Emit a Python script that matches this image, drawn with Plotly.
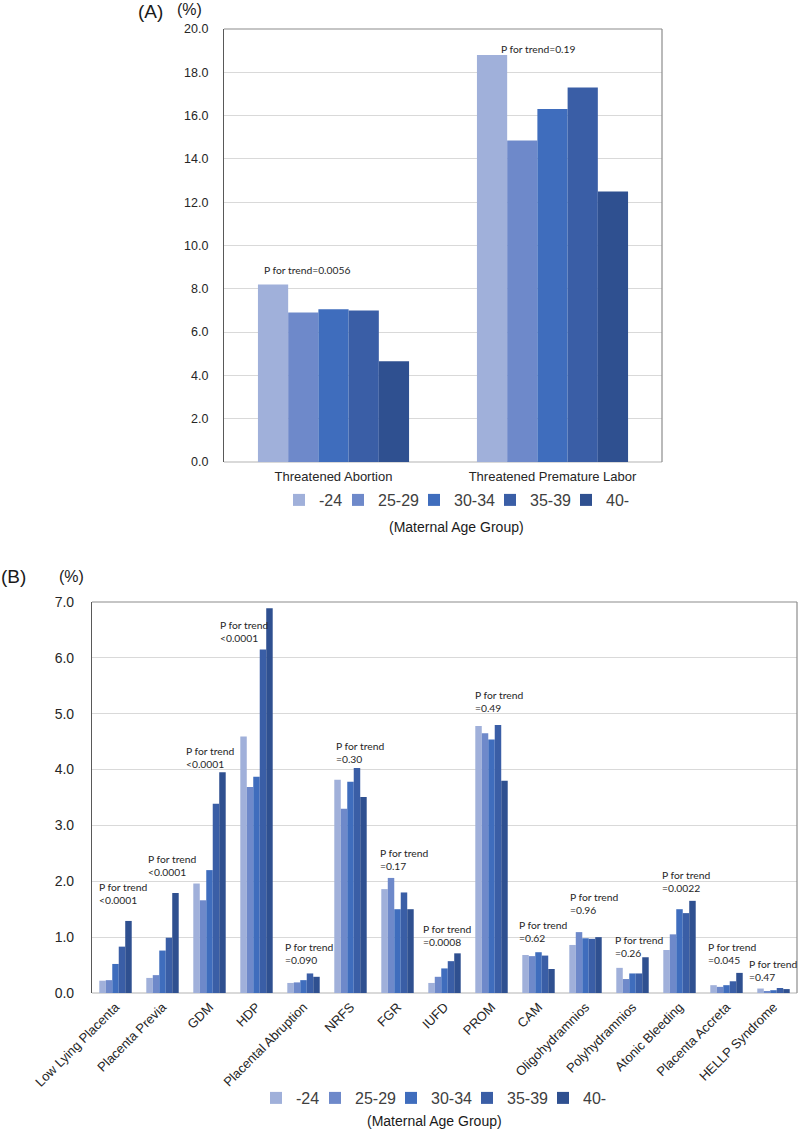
import plotly.graph_objects as go

W, H = 799, 1131

# ---------------- data ----------------
age_groups = ["-24", "25-29", "30-34", "35-39", "40-"]
colors = ["#A0B0DA", "#6E89CA", "#3F6DBD", "#3A5EA6", "#2F5090"]

a_categories = ["Threatened Abortion", "Threatened Premature Labor"]
a_m24 = [8.2, 18.8]
a_25_29 = [6.9, 14.85]
a_30_34 = [7.05, 16.3]
a_35_39 = [7.0, 17.3]
a_40p = [4.65, 12.5]
a_p_texts = ["P for trend=0.0056", "P for trend=0.19"]

b_categories = ["Low Lying Placenta", "Placenta Previa", "GDM", "HDP",
                "Placental Abruption", "NRFS", "FGR", "IUFD", "PROM", "CAM",
                "Oligohydramnios", "Polyhydramnios", "Atonic Bleeding",
                "Placenta Accreta", "HELLP Syndrome"]
b_m24 = [0.22, 0.27, 1.96, 4.59, 0.18, 3.82, 1.86, 0.18, 4.78, 0.68, 0.86, 0.45, 0.77, 0.14, 0.08]
b_25_29 = [0.23, 0.32, 1.66, 3.69, 0.19, 3.30, 2.06, 0.29, 4.65, 0.66, 1.09, 0.25, 1.05, 0.11, 0.02]
b_30_34 = [0.52, 0.76, 2.20, 3.87, 0.23, 3.78, 1.50, 0.44, 4.54, 0.73, 0.98, 0.35, 1.50, 0.14, 0.05]
b_35_39 = [0.83, 0.99, 3.39, 6.15, 0.35, 4.03, 1.80, 0.57, 4.80, 0.67, 0.97, 0.35, 1.43, 0.21, 0.09]
b_40p = [1.29, 1.79, 3.95, 6.89, 0.29, 3.51, 1.50, 0.71, 3.80, 0.43, 1.00, 0.64, 1.65, 0.36, 0.07]
b_p_texts = ["&lt;0.0001", "&lt;0.0001", "&lt;0.0001", "&lt;0.0001", "=0.090", "=0.30",
             "=0.17", "=0.0008", "=0.49", "=0.62", "=0.96", "=0.26", "=0.0022",
             "=0.045", "=0.47"]

# ---------------- layout helpers (pixel positions of text) ----------------
a_p_pos = [(307, 270), (538, 49)]           # centre of text, px
b_p_pos = [(97, 893), (146, 865), (184, 757), (218, 631), (283, 953), (334, 752),
           (378, 859), (421, 935), (473, 701), (517, 931), (568, 903), (613, 946),
           (660, 881), (706, 953), (747, 970)]  # left/middle of text block, px
legend_entry_widths = [14, 31, 31, 31, 18]

def px(x):
    return x / W

def py(y):
    return 1 - y / H

AX_FONT = "Liberation Sans, Arial, sans-serif"
NOTE_FONT = "Lato, Open Sans, sans-serif"
TXT = "#404040"

fig = go.Figure()

a_series = [a_m24, a_25_29, a_30_34, a_35_39, a_40p]
b_series = [b_m24, b_25_29, b_30_34, b_35_39, b_40p]

for name, vals, col, lw in zip(age_groups, a_series, colors, legend_entry_widths):
    fig.add_trace(go.Bar(x=a_categories, y=vals, name=name, marker_color=col,
                         marker_line_width=0, xaxis="x", yaxis="y",
                         legend="legend", legendwidth=lw, hoverinfo="x+y+name"))
for name, vals, col, lw in zip(age_groups, b_series, colors, legend_entry_widths):
    fig.add_trace(go.Bar(x=b_categories, y=vals, name=name, marker_color=col,
                         marker_line_width=0, xaxis="x2", yaxis="y2",
                         legend="legend2", legendwidth=lw, hoverinfo="x+y+name"))

annotations = []
for t, (x, y) in zip(a_p_texts, a_p_pos):
    annotations.append(dict(text=t, x=px(x), y=py(y), xref="paper", yref="paper",
                            xanchor="center", yanchor="middle", showarrow=False,
                            font=dict(family=NOTE_FONT, size=10.3, color="#262626")))
for t, (x, y) in zip(b_p_texts, b_p_pos):
    annotations.append(dict(text="P for trend<br>" + t, x=px(x), y=py(y),
                            xref="paper", yref="paper", xanchor="left",
                            yanchor="middle", align="left", showarrow=False,
                            font=dict(family=NOTE_FONT, size=10.3, color="#262626")))

# panel labels, units and legend titles
for t, x, y, s in [("(A)", 150, 12, 19), ("(%)", 189, 9, 16),
                   ("(B)", 13, 576, 19), ("(%)", 71, 576, 16),
                   ("(Maternal Age Group)", 457, 527, 14),
                   ("(Maternal Age Group)", 434, 1121, 14)]:
    annotations.append(dict(text=t, x=px(x), y=py(y), xref="paper", yref="paper",
                            xanchor="center", yanchor="middle", showarrow=False,
                            font=dict(family=AX_FONT, size=s, color="#1a1a1a")))

shapes = []
for xa, ya in [("x", "y"), ("x2", "y2")]:
    shapes.append(dict(type="line", xref=f"{xa} domain", yref=f"{ya} domain",
                       x0=0, x1=1, y0=1, y1=1, line=dict(color="#8C8C8C", width=1.2)))
    shapes.append(dict(type="line", xref=f"{xa} domain", yref=f"{ya} domain",
                       x0=1, x1=1, y0=0, y1=1, line=dict(color="#8C8C8C", width=1.2)))

fig.update_layout(
    width=W, height=H,
    margin=dict(l=0, r=0, t=0, b=0),
    paper_bgcolor="white", plot_bgcolor="white",
    barmode="group", bargap=0.31, bargroupgap=0,
    font=dict(family=AX_FONT, color=TXT),
    annotations=annotations, shapes=shapes,
    xaxis=dict(domain=[px(224), px(662)], anchor="y", showgrid=False,
               showline=False, ticks="", automargin=False, ticklabelstandoff=5,
               tickfont=dict(size=13, color="#262626")),
    yaxis=dict(domain=[py(462), py(29)], anchor="x", range=[0, 20], dtick=2,
               tickformat=".1f", showgrid=True, gridcolor="#D9D9D9",
               zeroline=True, zerolinecolor="#D9D9D9", showline=True,
               linecolor="#595959", linewidth=1.2, ticks="", automargin=False,
               ticklabelstandoff=12, tickfont=dict(size=12.5, color="#262626")),
    xaxis2=dict(domain=[px(92), px(797)], anchor="y2", showgrid=False,
                showline=False, ticks="", automargin=False, tickangle=-45,
                ticklabelstandoff=3, tickfont=dict(size=13, color="#262626")),
    yaxis2=dict(domain=[py(993), py(602)], anchor="x2", range=[0, 7], dtick=1,
                tickformat=".1f", showgrid=True, gridcolor="#D9D9D9",
                zeroline=True, zerolinecolor="#D9D9D9", showline=True,
                linecolor="#595959", linewidth=1.2, ticks="", automargin=False,
                ticklabelstandoff=14, tickfont=dict(size=14, color="#262626")),
    legend=dict(orientation="h", x=px(454), y=py(500), xanchor="center",
                yanchor="middle", font=dict(size=16, color="#404040"),
                bgcolor="rgba(0,0,0,0)", itemwidth=30, traceorder="normal"),
    legend2=dict(orientation="h", x=px(431), y=py(1098), xanchor="center",
                 yanchor="middle", font=dict(size=16, color="#404040"),
                 bgcolor="rgba(0,0,0,0)", itemwidth=30, traceorder="normal"),
)

fig.write_html(
    "out.html",
    config={"displayModeBar": False},
    post_script="document.body.style.margin='0';document.body.style.padding='0';"
                "document.body.style.overflow='hidden';",
)
